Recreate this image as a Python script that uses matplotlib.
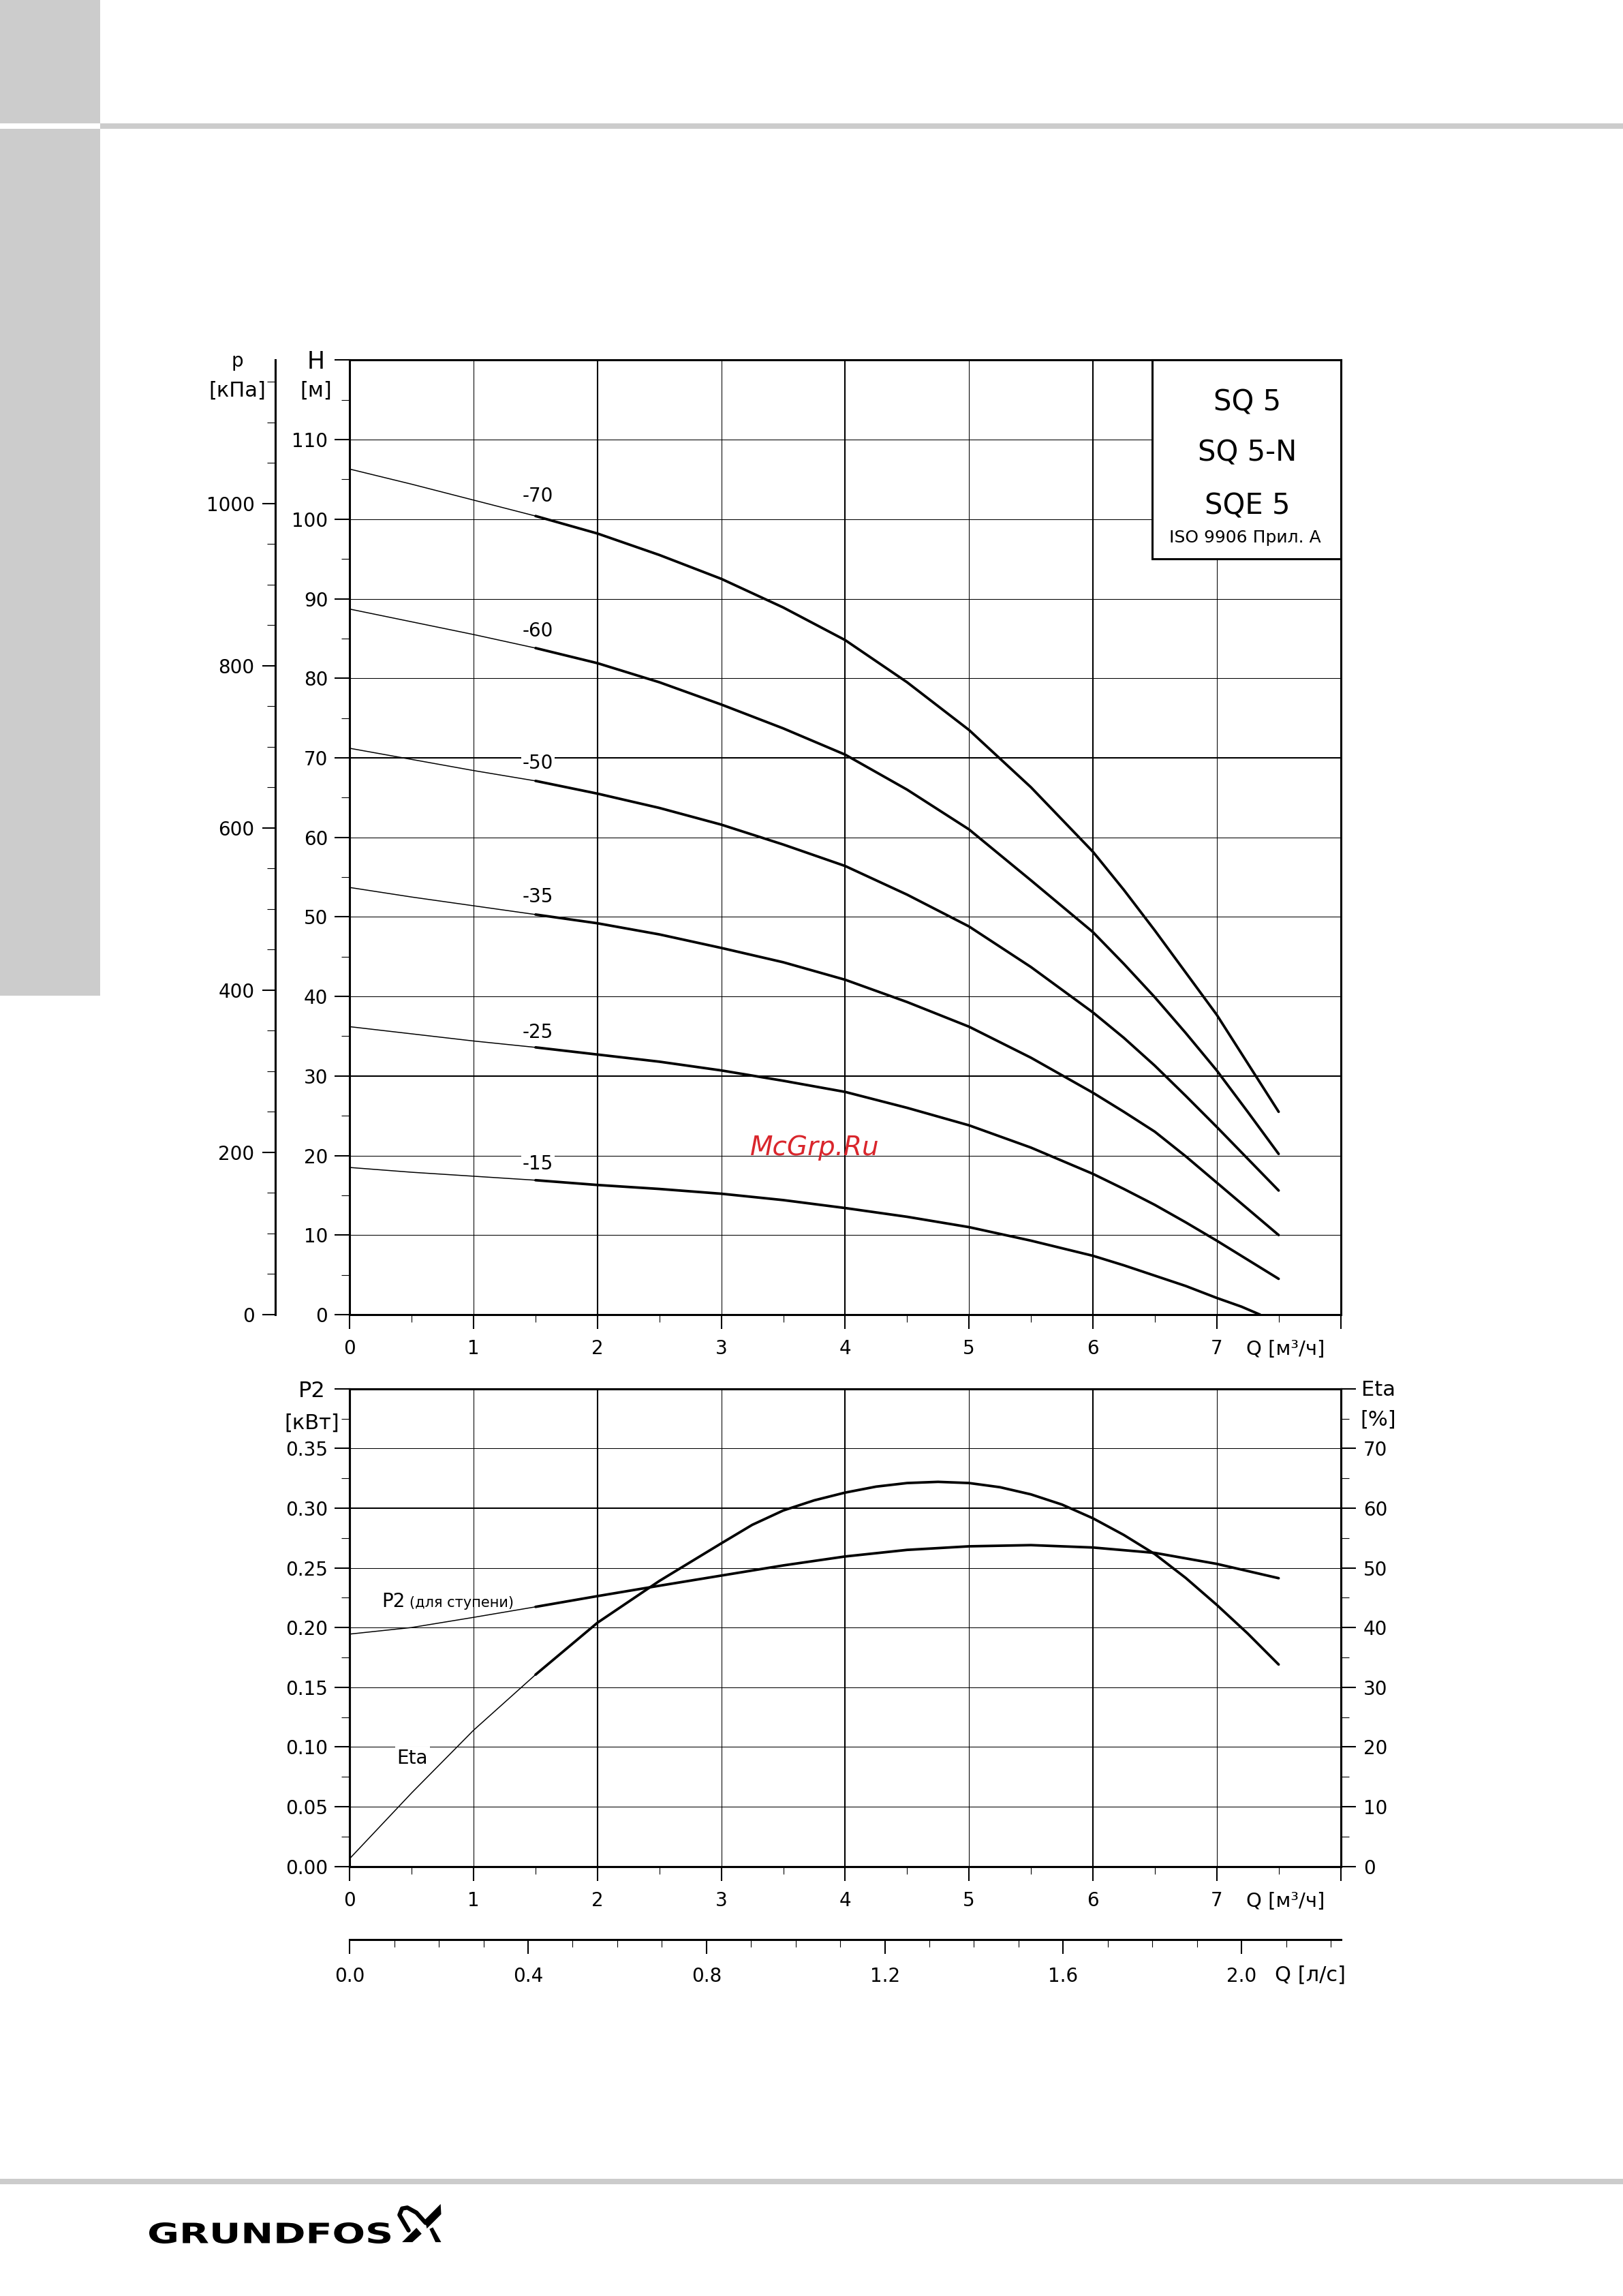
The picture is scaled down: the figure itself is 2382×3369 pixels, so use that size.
import matplotlib
matplotlib.use('Agg')
import matplotlib.pyplot as plt
from matplotlib.patches import Rectangle, Polygon, PathPatch
from matplotlib.textpath import TextPath
from matplotlib.font_manager import FontProperties
from matplotlib.transforms import Affine2D
from matplotlib.ticker import MultipleLocator, FixedLocator, FixedFormatter

plt.rcParams['font.family'] = ['DejaVu Sans']

W, H = 2382, 3369

# ---- data ----
q_head = [0, 0.5, 1, 1.5, 2, 2.5, 3, 3.5, 4, 4.5, 5, 5.5, 6, 6.25, 6.5, 6.75, 7, 7.25, 7.5]
head_70 = [106.3, 104.4, 102.4, 100.4, 98.2, 95.5, 92.5, 88.9, 84.8, 79.5, 73.5, 66.3, 58.2, 53.4, 48.3, 43.0, 37.7, 31.6, 25.5]
head_60 = [88.7, 87.1, 85.5, 83.8, 81.9, 79.5, 76.7, 73.7, 70.4, 66.0, 61.0, 54.6, 48.1, 44.1, 39.9, 35.4, 30.7, 25.5, 20.2]
head_50 = [71.2, 69.8, 68.4, 67.1, 65.5, 63.7, 61.6, 59.1, 56.4, 52.8, 48.8, 43.7, 38.0, 34.8, 31.3, 27.5, 23.6, 19.6, 15.6]
head_35 = [53.7, 52.5, 51.4, 50.3, 49.2, 47.8, 46.1, 44.3, 42.1, 39.3, 36.2, 32.3, 27.9, 25.5, 23.0, 19.9, 16.6, 13.3, 10.0]
head_25 = [36.2, 35.3, 34.4, 33.6, 32.7, 31.8, 30.7, 29.4, 28.0, 26.0, 23.8, 21.0, 17.7, 15.8, 13.8, 11.6, 9.3, 6.9, 4.5]
q_head_15 = [0, 0.5, 1, 1.5, 2, 2.5, 3, 3.5, 4, 4.5, 5, 5.5, 6, 6.25, 6.5, 6.75, 7, 7.2, 7.35]
head_15 = [18.5, 17.9, 17.4, 16.9, 16.3, 15.8, 15.2, 14.4, 13.4, 12.3, 11.0, 9.3, 7.4, 6.2, 4.9, 3.6, 2.1, 1.0, 0.0]

stage_names = ['-70', '-60', '-50', '-35', '-25', '-15']
stage_label_h = [102.9, 85.9, 69.3, 52.5, 35.5, 18.9]

q_pow = [0, 0.5, 1, 1.5, 2, 2.5, 3, 3.5, 4, 4.5, 5, 5.5, 6, 6.5, 7, 7.5]
p2_kw = [0.1945, 0.200, 0.2085, 0.2173, 0.2263, 0.2350, 0.2435, 0.2520, 0.2595, 0.2650, 0.2680,
         0.2690, 0.2670, 0.2625, 0.2533, 0.2413]
q_eta = [0, 0.5, 1, 1.5, 2, 2.5, 3, 3.25, 3.5, 3.75, 4, 4.25, 4.5, 4.75, 5, 5.25, 5.5, 5.75,
         6, 6.25, 6.5, 6.75, 7, 7.25, 7.5]
eta_pct = [1.3, 12.3, 22.8, 32.1, 40.8, 47.8, 54.1, 57.2, 59.6, 61.3, 62.6, 63.6, 64.2, 64.4, 64.2,
           63.5, 62.3, 60.6, 58.3, 55.5, 52.3, 48.3, 43.8, 39.0, 33.8]

h_ticks = list(range(0, 121, 10))
p_ticks = list(range(0, 1001, 200))
p2_ticks = [0.00, 0.05, 0.10, 0.15, 0.20, 0.25, 0.30, 0.35, 0.40]
eta_ticks = list(range(0, 81, 10))
ls_ticks = [0.0, 0.4, 0.8, 1.2, 1.6, 2.0]

fig = plt.figure(figsize=(W / 100, H / 100), dpi=100)


def fx(px):
    return px / W


def fy(py):
    return 1 - py / H


def ftext(x, y, s, **kw):
    kw.setdefault('ha', 'center')
    kw.setdefault('va', 'center')
    kw.setdefault('fontsize', 20)
    return fig.text(fx(x), fy(y), s, **kw)


# background decorations (page frame), pixel coordinates
bg = fig.add_axes([0, 0, 1, 1], zorder=-5)
bg.set_xlim(0, W)
bg.set_ylim(H, 0)
bg.axis('off')
gray = '#cccccc'
bg.add_patch(Rectangle((0, 0), 147, 181, color=gray, lw=0))
bg.add_patch(Rectangle((147, 181), W - 147, 8, color=gray, lw=0))
bg.add_patch(Rectangle((0, 189), 147, 1461 - 189, color=gray, lw=0))
bg.add_patch(Rectangle((0, 3197), W, 8, color=gray, lw=0))

# logo
tp = TextPath((0, 0), 'GRUNDFOS', size=100, prop=FontProperties(family='DejaVu Sans', weight='bold'))
ext = tp.get_extents()
sx = 354 / ext.width
sy = 31 / ext.height
tr = Affine2D().translate(-ext.x0, -ext.y0).scale(sx, -sy).translate(219, 3292)
bg.add_patch(PathPatch(tr.transform_path(tp), color='black', lw=0))
bg.plot([599.7, 586.3, 590.1, 597.8, 611.2, 624.6], [3272.7, 3250, 3240.7, 3239.3, 3246.7, 3261.7],
        color='black', lw=4.5, solid_capstyle='round')
bg.add_patch(Polygon([(623.4, 3257.3), (646.7, 3234), (647.5, 3249), (626.5, 3270)], color='black', lw=0))
bg.add_patch(Polygon([(590.1, 3290), (611.2, 3269), (618.8, 3277.7), (605.2, 3290)], color='black', lw=0))
bg.add_patch(Polygon([(630.3, 3270.7), (635.3, 3268.3), (647.5, 3290), (639.1, 3290)], color='black', lw=0))

x_left, x_right = 513.3, 1967.5
ax_w = (x_right - x_left) / W

# ---------------- head chart ----------------
top_y0, top_y1 = 528.4, 1929
ax = fig.add_axes([fx(x_left), fy(top_y1), ax_w, (top_y1 - top_y0) / H])
ax.set_xlim(0, 8)
ax.set_ylim(0, 120)
for q in range(1, 8):
    ax.axvline(q, color='black', lw=1.5 if q % 2 == 0 else 0.75, zorder=1)
for h in range(10, 120, 10):
    ax.axhline(h, color='black', lw=1.5 if h in (30, 70) else 0.75, zorder=1)

heads = [head_70, head_60, head_50, head_35, head_25, head_15]
for name, hv, lab_h in zip(stage_names, heads, stage_label_h):
    qv = q_head_15 if name == '-15' else q_head
    ax.plot(qv[:4], hv[:4], color='black', lw=1.1, zorder=3)
    ax.plot(qv[3:], hv[3:], color='black', lw=2.7, zorder=3, solid_capstyle='round')
    ax.text(1.52, lab_h, name, ha='center', va='center', fontsize=20, zorder=4,
            bbox=dict(fc='white', ec='none', pad=1.5))

ax.text(3.756, 21.0, 'McGrp.Ru', color='#d9262c', fontsize=28, style='italic',
        ha='center', va='center', zorder=4)

ax.add_patch(Rectangle((6.48, 95), 1.52, 25, fc='white', ec='black', lw=2.2, zorder=5, clip_on=False))

ax.yaxis.set_major_locator(FixedLocator(h_ticks))
ax.yaxis.set_major_formatter(FixedFormatter([str(v) for v in h_ticks[:-1]] + ['']))
ax.yaxis.set_minor_locator(MultipleLocator(5))
ax.xaxis.set_major_locator(FixedLocator(range(0, 9)))
ax.xaxis.set_major_formatter(FixedFormatter([str(v) for v in range(0, 8)] + ['']))
ax.xaxis.set_minor_locator(MultipleLocator(0.5))
ax.tick_params(axis='y', which='major', direction='out', length=16, width=1.5, pad=7, labelsize=20)
ax.tick_params(axis='y', which='minor', direction='out', length=8.5, width=0.8)
ax.tick_params(axis='x', which='major', direction='out', length=15, width=1.5, pad=11, labelsize=20)
ax.tick_params(axis='x', which='minor', direction='out', length=8, width=0.8)
for s in ax.spines.values():
    s.set_linewidth(2.2)

# pressure axis
axp = fig.add_axes([fx(404), fy(top_y1), 0.0001, (top_y1 - top_y0) / H])
axp.set_ylim(0, 120 * 9.80665)
axp.patch.set_visible(False)
for k in ('right', 'top', 'bottom'):
    axp.spines[k].set_visible(False)
axp.spines['left'].set_linewidth(2.2)
axp.set_xticks([])
axp.yaxis.set_major_locator(FixedLocator(p_ticks))
axp.yaxis.set_minor_locator(FixedLocator([v for v in range(50, 1151, 50) if v % 200 != 0]))
axp.tick_params(axis='y', which='major', direction='out', length=14, width=1.5, pad=8, labelsize=20)
axp.tick_params(axis='y', which='minor', direction='out', length=8.5, width=0.8)

ftext(348, 530, 'p', fontsize=20)
ftext(348, 573, '[кПа]', fontsize=22)
ftext(464, 531, 'H', fontsize=25)
ftext(464, 573, '[м]', fontsize=22)
ftext(1887, 1980, 'Q [м³/ч]', fontsize=21)

ftext(1831, 590, 'SQ 5', fontsize=30)
ftext(1831, 665, 'SQ 5-N', fontsize=30)
ftext(1831, 742, 'SQE 5', fontsize=30)
ftext(1827, 789, 'ISO 9906 Прил. A', fontsize=18)

# ---------------- power / efficiency chart ----------------
bot_y0, bot_y1 = 2037.7, 2738.5
ax2 = fig.add_axes([fx(x_left), fy(bot_y1), ax_w, (bot_y1 - bot_y0) / H])
ax2.set_xlim(0, 8)
ax2.set_ylim(0, 0.40)
for q in range(1, 8):
    ax2.axvline(q, color='black', lw=1.5 if q % 2 == 0 else 0.75, zorder=1)
for v in p2_ticks[1:-1]:
    ax2.axhline(v, color='black', lw=1.5 if abs(v - 0.30) < 1e-9 else 0.75, zorder=1)

ax2.plot(q_pow[:4], p2_kw[:4], color='black', lw=1.1, zorder=3)
ax2.plot(q_pow[3:], p2_kw[3:], color='black', lw=2.7, zorder=3, solid_capstyle='round')

ax2.yaxis.set_major_locator(FixedLocator(p2_ticks))
ax2.yaxis.set_major_formatter(FixedFormatter(['%.2f' % v for v in p2_ticks[:-1]] + ['']))
ax2.yaxis.set_minor_locator(MultipleLocator(0.025))
ax2.xaxis.set_major_locator(FixedLocator(range(0, 9)))
ax2.xaxis.set_major_formatter(FixedFormatter([str(v) for v in range(0, 8)] + ['']))
ax2.xaxis.set_minor_locator(MultipleLocator(0.5))
ax2.tick_params(axis='y', which='major', direction='out', length=16, width=1.5, pad=7, labelsize=20)
ax2.tick_params(axis='y', which='minor', direction='out', length=8.5, width=0.8)
ax2.tick_params(axis='x', which='major', direction='out', length=15, width=1.5, pad=11, labelsize=20)
ax2.tick_params(axis='x', which='minor', direction='out', length=8, width=0.8)
for s in ax2.spines.values():
    s.set_linewidth(2.2)

ax2r = ax2.twinx()
ax2r.set_ylim(0, 80)
ax2r.plot(q_eta[:4], eta_pct[:4], color='black', lw=1.1, zorder=3)
ax2r.plot(q_eta[3:], eta_pct[3:], color='black', lw=2.7, zorder=3, solid_capstyle='round')
ax2r.text(0.505, 18.1, 'Eta', ha='center', va='center', fontsize=20, zorder=4,
          bbox=dict(fc='white', ec='none', pad=2))
ax2r.yaxis.set_major_locator(FixedLocator(eta_ticks))
ax2r.yaxis.set_major_formatter(FixedFormatter([str(v) for v in eta_ticks[:-1]] + ['']))
ax2r.yaxis.set_minor_locator(MultipleLocator(5))
ax2r.tick_params(axis='y', which='major', direction='out', length=16, width=1.5, pad=8, labelsize=20)
ax2r.tick_params(axis='y', which='minor', direction='out', length=8.5, width=0.8)
for s in ax2r.spines.values():
    s.set_linewidth(2.2)

ftext(560, 2358, 'P2', fontsize=20, ha='left', va='baseline')
ftext(601, 2358, '(для ступени)', fontsize=15, ha='left', va='baseline')
ftext(458, 2041, 'P2', fontsize=23)
ftext(458, 2088, '[кВт]', fontsize=22)
ftext(2023, 2039, 'Eta', fontsize=22)
ftext(2023, 2083, '[%]', fontsize=22)
ftext(1887, 2790, 'Q [м³/ч]', fontsize=21)

# ---------------- l/s scale ----------------
ls_y = 2846
ax3 = fig.add_axes([fx(x_left), fy(ls_y), ax_w, 0.0001])
ax3.set_xlim(0, 8 / 3.6)
ax3.patch.set_visible(False)
for k in ('left', 'right', 'top'):
    ax3.spines[k].set_visible(False)
ax3.spines['bottom'].set_linewidth(2.2)
ax3.set_yticks([])
ax3.xaxis.set_major_locator(FixedLocator(ls_ticks))
ax3.xaxis.set_major_formatter(FixedFormatter(['%.1f' % v for v in ls_ticks]))
ax3.xaxis.set_minor_locator(FixedLocator([i / 10 for i in range(1, 23) if i % 4 != 0]))
ax3.tick_params(axis='x', which='major', direction='out', length=15, width=1.5, pad=14, labelsize=20)
ax3.tick_params(axis='x', which='minor', direction='out', length=8, width=0.8)
ftext(1923, 2898, 'Q [л/с]', fontsize=22)

fig.savefig('out.png', dpi=100, facecolor='white')
